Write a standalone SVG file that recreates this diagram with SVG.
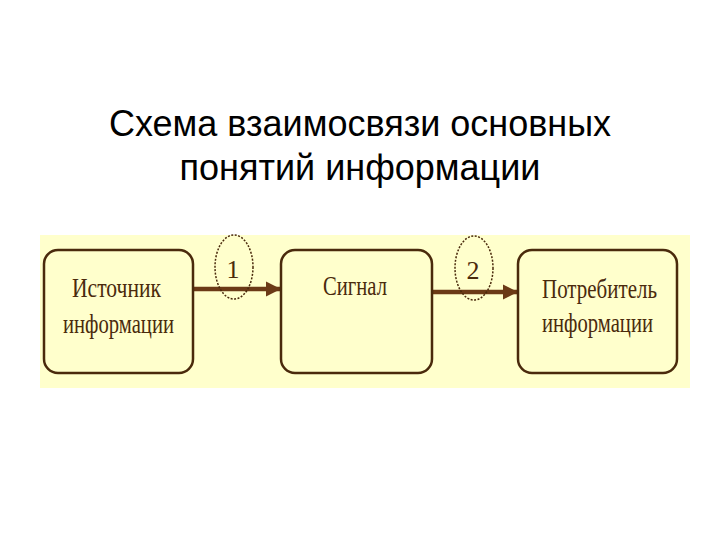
<svg xmlns="http://www.w3.org/2000/svg" width="720" height="540" viewBox="0 0 720 540">
<style>
.title{font-family:"Liberation Sans",Arial,sans-serif;font-size:36px;fill:#000;text-anchor:middle}
.box{fill:#FFFFCC;stroke:#4A2A0C;stroke-width:2.5}
.lbl{font-family:"Liberation Serif","Times New Roman",serif;font-size:28px;fill:#4A2A0C}
.conn{stroke:#6B3A16;stroke-width:4.5;fill:none}
.oval{fill:none;stroke:#4A2A0C;stroke-width:1.5;stroke-dasharray:2 1.5}
.num{font-family:"Liberation Serif","Times New Roman",serif;font-size:26px;fill:#4A2A0C;text-anchor:middle}
</style>
<defs>
<marker id="ah" markerWidth="4" markerHeight="4" refX="3.2" refY="2" orient="auto" markerUnits="strokeWidth">
<path d="M0,0.3 L3.4,2 L0,3.7 Z" fill="#6B3A16"/>
</marker>
</defs>
<rect width="720" height="540" fill="#fff"/>
<text class="title" x="360" y="136">Схема взаимосвязи основных</text>
<text class="title" x="360" y="180">понятий информации</text>
<rect x="40" y="235" width="650" height="153" fill="#FFFFCC"/>
<g id="connectors">
<line class="conn" x1="193" y1="289" x2="280" y2="289" marker-end="url(#ah)"/>
<line class="conn" x1="432" y1="292" x2="517" y2="292" marker-end="url(#ah)"/>
<ellipse class="oval" cx="234" cy="267" rx="19" ry="32"/>
<text class="num" x="233" y="278">1</text>
<ellipse class="oval" cx="474" cy="268" rx="19" ry="32"/>
<text class="num" x="473" y="279">2</text>
</g>
<g id="node-source">
<rect class="box" x="44" y="250" width="149" height="123" rx="14"/>
<text class="lbl" x="72" y="297" textLength="89" lengthAdjust="spacingAndGlyphs">Источник</text>
<text class="lbl" x="63" y="333" textLength="111" lengthAdjust="spacingAndGlyphs">информации</text>
</g>
<g id="node-signal">
<rect class="box" x="281" y="250" width="151" height="123" rx="14"/>
<text class="lbl" x="323" y="295" textLength="64" lengthAdjust="spacingAndGlyphs">Сигнал</text>
</g>
<g id="node-consumer">
<rect class="box" x="518" y="250" width="159" height="123" rx="14"/>
<text class="lbl" x="542" y="298" textLength="115" lengthAdjust="spacingAndGlyphs">Потребитель</text>
<text class="lbl" x="542" y="332" textLength="111" lengthAdjust="spacingAndGlyphs">информации</text>
</g>
</svg>
